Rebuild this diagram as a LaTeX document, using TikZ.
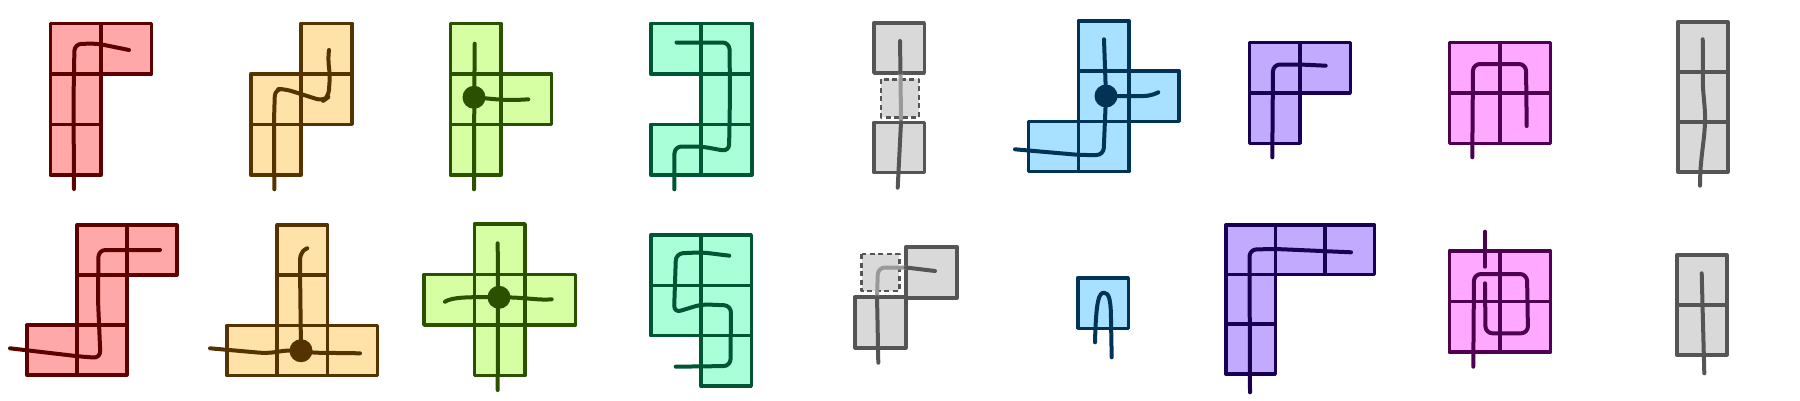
\documentclass[tikz,border=0pt]{standalone}
\begin{document}
\begin{tikzpicture}[x=1pt,y=-1pt,
  box/.style={line width=3.6pt,line join=round},
  crv/.style={line width=4pt,line cap=round,line join=round,rounded corners=7pt}]
\definecolor{rF}{HTML}{FFA8AA}\definecolor{rD}{HTML}{5C0000}
\definecolor{oF}{HTML}{FFE2A8}\definecolor{oD}{HTML}{553300}
\definecolor{gF}{HTML}{D6FFA3}\definecolor{gD}{HTML}{2A5000}
\definecolor{tF}{HTML}{A8FFD8}\definecolor{tD}{HTML}{005533}
\definecolor{kF}{HTML}{D9D9D9}\definecolor{kD}{HTML}{555555}\definecolor{kL}{HTML}{999999}
\definecolor{bF}{HTML}{A8E0FF}\definecolor{bD}{HTML}{003355}
\definecolor{pF}{HTML}{C2AAFF}\definecolor{pD}{HTML}{1A0050}
\definecolor{mF}{HTML}{FFA8FF}\definecolor{mD}{HTML}{4D0050}
\newcommand\polyomino[6]{\begin{scope}[shift={(#3,#4)}]
 \foreach \c/\r in {#6}{\fill[#1] (\c*#5,\r*#5) rectangle ++(#5,#5);}
 \foreach \c/\r in {#6}{\draw[box,#2] (\c*#5,\r*#5) rectangle ++(#5,#5);}
\end{scope}}
\useasboundingbox (0,0) rectangle (1800,400);
% ---------- top row ----------
\polyomino{rF}{rD}{50.5}{23.3}{50.5}{0/0,1/0,0/1,0/2}
\draw[crv,rD] (74,189) -- (73.5,100) -- (74.5,44) -- (97,43.5) -- (129,50);
\polyomino{oF}{oD}{250.7}{23.3}{50.5}{1/0,0/1,1/1,0/2}
\draw[crv,oD] (274.3,189.3) -- (274,120) -- (275,89) -- (285,89) -- (323,101) -- (328.5,97) -- (330,75) -- (328,60) -- (329,50);
\polyomino{gF}{gD}{450.5}{23.3}{50.5}{0/0,0/1,1/1,0/2}
\draw[crv,gD] (474.7,43.7) -- (474.3,97) -- (474,189.3);
\draw[crv,gD] (474,97.3) .. controls (495,99) and (505,101) .. (528.3,99.3);
\fill[gD] (474,97.3) circle (11.5);
\polyomino{tF}{tD}{650.7}{23.3}{50.5}{0/0,1/0,1/1,0/2,1/2}
\draw[crv,tD] (674.3,189.3) -- (674.5,146.5) -- (701.7,146.5) -- (729,151.5) -- (730,95) -- (729.5,42.5) -- (676.5,42.5);
% gray top
\fill[kF] (881,79.3) rectangle (919,117.3);
\draw[box,kD,line width=2.6pt,dash pattern=on 5pt off 3.5pt] (881,79.3) rectangle (919,117.3);
\polyomino{kF}{kD}{874}{22.7}{50.3}{0/0}
\polyomino{kF}{kD}{874}{122.3}{50.3}{0/0}
\draw[crv,kL] (900.5,72.7) -- (901,122.3);
\draw[crv,kD] (900,41) -- (900.5,72.7);
\draw[crv,kD] (901,122.3) -- (897.7,187.7);
\polyomino{bF}{bD}{1028.3}{20.7}{50.3}{1/0,1/1,2/1,0/2,1/2}
\draw[crv,bD] (1104,39.3) -- (1106,96) -- (1103.5,155) -- (1080,155) -- (1015,149.3);
\draw[crv,bD] (1106,96) -- (1151,96) -- (1158.3,92.3);
\fill[bD] (1106,96) circle (11.5);
\polyomino{pF}{pD}{1249.3}{42.3}{50.5}{0/0,1/0,0/1}
\draw[crv,pD] (1272.3,157.3) -- (1273,64.5) -- (1300,64.5) -- (1325.7,65.7);
\polyomino{mF}{mD}{1449.3}{42.3}{50.6}{0/0,1/0,0/1,1/1}
\draw[crv,mD] (1472.3,157.3) -- (1473,64) -- (1526,64) -- (1526.7,126);
\polyomino{kF}{kD}{1677.7}{21.7}{50}{0/0,0/1,0/2}
\draw[crv,kD] (1702.7,39.3) to[out=-88,in=95] (1704,100) to[out=-85,in=90] (1700,185.7);
% ---------- bottom row ----------
\polyomino{rF}{rD}{26.7}{225}{50}{1/0,2/0,1/1,0/2,1/2}
\draw[crv,rD] (160,250) -- (98.5,250) -- (98,300) -- (100.5,358) -- (80,356.5) -- (10,348.3);
\polyomino{oF}{oD}{227}{225}{50.2}{1/0,1/1,0/2,1/2,2/2}
\draw[crv,oD] (307.3,248.3) to[out=200,in=90] (300,268) -- (301,350.7);
\draw[crv,oD] (210,348.3) -- (266.7,353.3) -- (290,350) -- (313,352.7) -- (360,353.3);
\fill[oD] (301,350.7) circle (11.5);
\polyomino{gF}{gD}{424}{224}{50.5}{1/0,0/1,1/1,2/1,1/2}
\draw[crv,gD] (497.7,243.3) -- (498,297) -- (497.7,390);
\draw[crv,gD] (445,301.7) .. controls (452,297) and (470,297) .. (499,297.3) .. controls (525,297.5) and (540,300.5) .. (551.7,299.3);
\fill[gD] (499,297.3) circle (11.5);
\polyomino{tF}{tD}{650.7}{235}{50.3}{0/0,1/0,0/1,1/1,1/2}
\draw[crv,tD] (729.3,255.7) -- (701.7,252.3) -- (676,253.5) -- (674,312.7) -- (701.7,304.3) -- (731,305.5) -- (730.5,366) -- (675.7,366.7);
% gray bottom
\fill[kF] (861.7,254) rectangle (899.3,291);
\draw[box,kD,line width=2.6pt,dash pattern=on 5pt off 3.5pt] (861.7,254) rectangle (899.3,291);
\polyomino{kF}{kD}{906}{246.7}{51}{0/0}
\polyomino{kF}{kD}{855}{296.7}{51}{0/0}
\draw[crv,kL] (877,297) -- (878,267.5) -- (906,267.5);
\draw[crv,kD] (878.3,362.7) -- (877.5,320) -- (877,297);
\draw[crv,kD] (906,267.5) -- (935,271);
\polyomino{bF}{bD}{1077.7}{277.7}{50.6}{0/0}
\draw[crv,bD,rounded corners=0pt] (1095,342.3) .. controls (1096,300) and (1099,292.7) .. (1104,292.7) .. controls (1109,292.7) and (1111,300) .. (1111,320) -- (1111.7,357.3);
\polyomino{pF}{pD}{1225.7}{225}{49.6}{0/0,1/0,2/0,0/1,0/2}
\draw[crv,pD] (1250,392.3) -- (1249.5,249.5) -- (1276,249) -- (1351,252.3);
\polyomino{mF}{mD}{1449.3}{251}{50.6}{0/0,1/0,0/1,1/1}
\draw[crv,mD] (1485,231.7) -- (1485,266.7);
\draw[crv,mD] (1485,283.3) -- (1485.5,333.3) -- (1528,333.3) -- (1527,274) -- (1474,274) -- (1473.3,366.7);
\polyomino{kF}{kD}{1676.7}{255}{50}{0/0,0/1}
\draw[crv,kD] (1701.7,273.3) -- (1704.3,373.3);
\end{tikzpicture}
\end{document}
